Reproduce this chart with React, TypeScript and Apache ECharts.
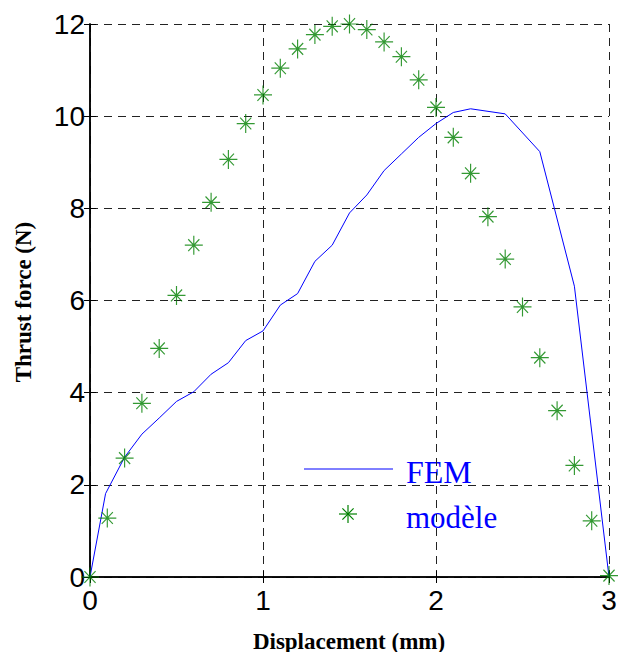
import React, { useEffect, useRef } from "react";
import * as echarts from "echarts";

// FEM curve (blue line)
const femX = [0, 0.09, 0.2, 0.3, 0.4, 0.5, 0.6, 0.7, 0.8, 0.9, 1.0, 1.1, 1.2, 1.3, 1.4, 1.5, 1.6, 1.7, 1.8, 1.9, 2.0, 2.1, 2.2, 2.4, 2.6, 2.8, 3.0];
const femY = [0, 1.81, 2.6, 3.1, 3.45, 3.81, 4.02, 4.4, 4.65, 5.13, 5.34, 5.9, 6.15, 6.85, 7.2, 7.9, 8.29, 8.82, 9.18, 9.54, 9.84, 10.08, 10.16, 10.05, 9.23, 6.31, 0];

// Model points (green asterisks)
const modelX = [0, 0.1, 0.2, 0.3, 0.4, 0.5, 0.6, 0.7, 0.8, 0.9, 1.0, 1.1, 1.2, 1.3, 1.4, 1.5, 1.6, 1.7, 1.8, 1.9, 2.0, 2.1, 2.2, 2.3, 2.4, 2.5, 2.6, 2.7, 2.8, 2.9, 3.0];
const modelY = [0, 1.28, 2.58, 3.77, 4.96, 6.11, 7.2, 8.13, 9.06, 9.84, 10.46, 11.04, 11.46, 11.77, 11.95, 12.0, 11.88, 11.61, 11.29, 10.79, 10.19, 9.54, 8.76, 7.82, 6.9, 5.86, 4.76, 3.61, 2.42, 1.22, 0.03];

const xTicks = [0, 1, 2, 3];
const yTicks = [0, 2, 4, 6, 8, 10, 12];

const legendNames = ["FEM", "modèle"];
const xTitle = "Displacement (mm)";
const yTitle = "Thrust force (N)";

const GREEN = "#008000";
const BLUE = "#0000ff";
const STAR = "path://M0,-1L0,1M-1,0L1,0M-0.62,-0.62L0.62,0.62M-0.62,0.62L0.62,-0.62";
const SERIF = "'Liberation Serif', 'Times New Roman', serif";

export default function App() {
  const ref = useRef<HTMLDivElement>(null);
  useEffect(() => {
    if (!ref.current) return;
    const chart = echarts.init(ref.current, null, { renderer: "svg" });
    const tickFont = { fontSize: 28, fontFamily: "Liberation Sans, Arial, sans-serif", color: "#000" };
    const dashed = { show: true, lineStyle: { color: "#222", type: [8, 6] as any, width: 1 } };
    const axisLine = { show: true, lineStyle: { color: "#000", width: 1.5 } };
    const tick = { show: true, inside: true, length: 6, lineStyle: { color: "#000", width: 1 } };
    const sx = 348, ly = 514;
    const arm = 9;
    const d = 5.6;
    chart.setOption({
      animation: false,
      backgroundColor: "#fff",
      grid: { left: 90, right: 12, top: 24, bottom: 75 },
      xAxis: [
        {
          type: "value", min: xTicks[0], max: xTicks[xTicks.length - 1], interval: 1,
          axisLine, axisTick: tick, splitLine: dashed,
          axisLabel: { ...tickFont, margin: 9 },
        },
        {
          type: "value", position: "top", min: 0, max: 3, interval: 1,
          axisLine, axisTick: tick, splitLine: { show: false }, axisLabel: { show: false },
        },
      ],
      yAxis: [
        {
          type: "value", min: yTicks[0], max: yTicks[yTicks.length - 1], interval: 2,
          axisLine, axisTick: tick, splitLine: dashed,
          axisLabel: { ...tickFont, margin: 5 },
        },
        {
          type: "value", position: "right", min: 0, max: 12, interval: 2,
          axisLine, axisTick: tick, splitLine: { show: false }, axisLabel: { show: false },
        },
      ],
      series: [
        {
          name: legendNames[0], type: "line", showSymbol: false, symbol: "none",
          data: femX.map((x, i) => [x, femY[i]]),
          lineStyle: { color: BLUE, width: 1 }, clip: false, z: 3,
        },
        {
          name: legendNames[1], type: "scatter", symbol: STAR, symbolSize: [18, 19],
          data: modelX.map((x, i) => [x, modelY[i]]),
          itemStyle: { color: "rgba(0,0,0,0)", borderColor: GREEN, borderWidth: 1.2 },
          clip: false, z: 4,
        },
      ],
      graphic: [
        {
          type: "text", x: 349, y: 641,
          style: { text: xTitle, font: `bold 23px ${SERIF}`, fill: "#000", align: "center", verticalAlign: "middle" },
        },
        {
          type: "text", x: 23, y: 302, rotation: Math.PI / 2,
          style: { text: yTitle, font: `bold 23px ${SERIF}`, fill: "#000", align: "center", verticalAlign: "middle" },
        },
        {
          type: "group", z: 10,
          children: [
            { type: "rect", shape: { x: 283, y: 437, width: 225, height: 106 }, style: { fill: "#fff" } },
            { type: "line", shape: { x1: 304, y1: 469, x2: 393, y2: 469 }, style: { stroke: BLUE, lineWidth: 1 } },
            { type: "line", shape: { x1: sx, y1: ly - arm, x2: sx, y2: ly + arm }, style: { stroke: GREEN, lineWidth: 1.2 } },
            { type: "line", shape: { x1: sx - arm, y1: ly, x2: sx + arm, y2: ly }, style: { stroke: GREEN, lineWidth: 1.2 } },
            { type: "line", shape: { x1: sx - d, y1: ly - d, x2: sx + d, y2: ly + d }, style: { stroke: GREEN, lineWidth: 1.2 } },
            { type: "line", shape: { x1: sx - d, y1: ly + d, x2: sx + d, y2: ly - d }, style: { stroke: GREEN, lineWidth: 1.2 } },
            {
              type: "text", x: 406, y: 472,
              style: { text: legendNames[0], font: `32px ${SERIF}`, fill: BLUE, verticalAlign: "middle" },
            },
            {
              type: "text", x: 406, y: 517,
              style: { text: legendNames[1], font: `31px ${SERIF}`, fill: BLUE, verticalAlign: "middle" },
            },
          ],
        },
      ],
    });
    return () => chart.dispose();
  }, []);
  return <div ref={ref} style={{ position: "fixed", left: 0, top: 0, width: 621, height: 652 }} />;
}
